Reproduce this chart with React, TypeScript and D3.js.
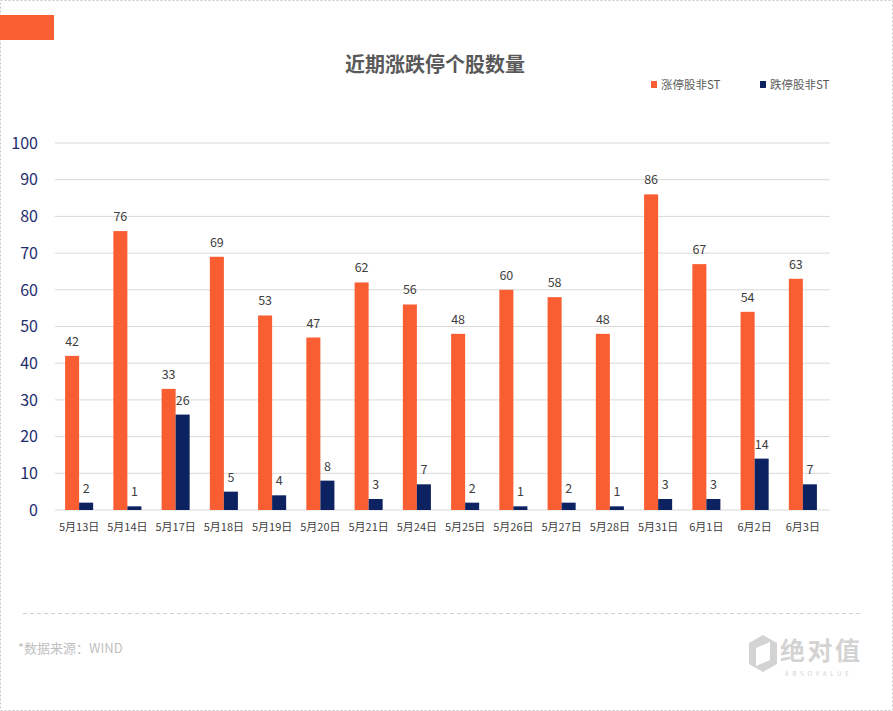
import { useEffect, useRef } from 'react';
import * as d3 from 'd3';

const categories = ['5月13日', '5月14日', '5月17日', '5月18日', '5月19日', '5月20日', '5月21日', '5月24日', '5月25日', '5月26日', '5月27日', '5月28日', '5月31日', '6月1日', '6月2日', '6月3日'];
const limitUp = [42, 76, 33, 69, 53, 47, 62, 56, 48, 60, 58, 48, 86, 67, 54, 63];
const limitDown = [2, 1, 26, 5, 4, 8, 3, 7, 2, 1, 2, 1, 3, 3, 14, 7];
const seriesNames = ['涨停股非ST', '跌停股非ST'];
const seriesColors = ['#F95E32', '#0D2260'];
const yTicks = [0, 10, 20, 30, 40, 50, 60, 70, 80, 90, 100];

const W = 893;
const H = 711;
const FONT = '"Microsoft YaHei", "Noto Sans CJK SC", "Noto Sans", sans-serif';

document.body.style.margin = '0';

function App() {
    const svgRef = useRef<SVGSVGElement>(null);

    useEffect(() => {
        if (!svgRef.current) return;
        const svg = d3.select(svgRef.current);
        svg.selectAll('*').remove();

        // frame
        svg.append('rect')
            .attr('x', 0.5).attr('y', 0.5)
            .attr('width', W - 1).attr('height', H - 1)
            .attr('fill', '#fff')
            .attr('stroke', '#c8c8c8')
            .attr('stroke-dasharray', '2,2');

        svg.append('rect')
            .attr('x', 0).attr('y', 15)
            .attr('width', 54).attr('height', 25)
            .attr('fill', '#F95E32');

        svg.append('text')
            .attr('x', 435).attr('y', 72)
            .attr('text-anchor', 'middle')
            .attr('font-family', FONT)
            .attr('font-size', 20)
            .attr('font-weight', 'bold')
            .attr('fill', '#595959')
            .text('近期涨跌停个股数量');

        // legend
        const legendX = [651, 760];
        seriesNames.forEach((name, i) => {
            const lg = svg.append('g').attr('transform', `translate(${legendX[i]},81)`);
            lg.append('rect').attr('width', 6).attr('height', 7).attr('fill', seriesColors[i]);
            lg.append('text')
                .attr('x', 10).attr('y', 7.5)
                .attr('font-family', FONT)
                .attr('font-size', 11.5)
                .attr('fill', '#595959')
                .text(name);
        });

        const x0 = d3.scaleBand<string>().domain(categories).range([55, 827]);
        const x1 = d3.scaleBand<number>().domain([0, 1]).range([0, x0.bandwidth()]).paddingOuter(0.72);
        const y = d3.scaleLinear().domain([0, 100]).range([510, 143]);

        // grid
        svg.append('g')
            .selectAll('line')
            .data(yTicks)
            .join('line')
            .attr('x1', 55).attr('x2', 830)
            .attr('y1', (d) => y(d)).attr('y2', (d) => y(d))
            .attr('stroke', '#d9d9d9')
            .attr('stroke-width', 1);

        svg.append('g')
            .selectAll('text')
            .data(yTicks)
            .join('text')
            .attr('x', 38).attr('y', (d) => y(d))
            .attr('dy', '0.36em')
            .attr('text-anchor', 'end')
            .attr('font-family', FONT)
            .attr('font-size', 16)
            .attr('fill', '#1F2D6E')
            .text((d) => d);

        const series = [limitUp, limitDown];
        series.forEach((values, s) => {
            const g = svg.append('g');
            g.selectAll('rect')
                .data(values)
                .join('rect')
                .attr('x', (_, i) => x0(categories[i])! + x1(s)!)
                .attr('y', (d) => y(d))
                .attr('width', x1.bandwidth())
                .attr('height', (d) => y(0) - y(d))
                .attr('fill', seriesColors[s]);
            g.selectAll('text')
                .data(values)
                .join('text')
                .attr('x', (_, i) => x0(categories[i])! + x1(s)! + x1.bandwidth() / 2)
                .attr('y', (d) => y(d) - 10)
                .attr('text-anchor', 'middle')
                .attr('font-family', FONT)
                .attr('font-size', 12.5)
                .attr('fill', '#404040')
                .text((d) => d);
        });

        svg.append('g')
            .selectAll('text')
            .data(categories)
            .join('text')
            .attr('x', (d) => x0(d)! + x0.bandwidth() / 2)
            .attr('y', 531)
            .attr('text-anchor', 'middle')
            .attr('font-family', FONT)
            .attr('font-size', 11)
            .attr('fill', '#404040')
            .text((d) => d);

        // footer
        svg.append('line')
            .attr('x1', 23).attr('x2', 860)
            .attr('y1', 613.5).attr('y2', 613.5)
            .attr('stroke', '#d0d0d0')
            .attr('stroke-dasharray', '4,3');

        svg.append('text')
            .attr('x', 18).attr('y', 653)
            .attr('font-family', FONT)
            .attr('font-size', 13)
            .attr('fill', '#bfbfbf')
            .text('*数据来源：WIND');

        const logo = svg.append('g').attr('fill', '#d3d3d3');
        logo.append('path')
            .attr('d', 'M763,635 L777,643 L777,664 L763,672 L749,664 L749,643 Z');
        logo.append('path')
            .attr('d', 'M756,648 L770,642 L770,660 L756,666 Z')
            .attr('fill', '#fff');
        logo.append('text')
            .attr('x', 780).attr('y', 660)
            .attr('font-family', FONT)
            .attr('font-size', 25)
            .attr('font-weight', 'bold')
            .attr('textLength', 80)
            .text('绝对值');
        logo.append('text')
            .attr('x', 785).attr('y', 676)
            .attr('font-family', FONT)
            .attr('font-size', 6)
            .attr('letter-spacing', 3.8)
            .text('ABSOVALUE');
    }, []);

    return <svg ref={svgRef} width={W} height={H} style={{ display: 'block' }}></svg>;
}

export default App;
